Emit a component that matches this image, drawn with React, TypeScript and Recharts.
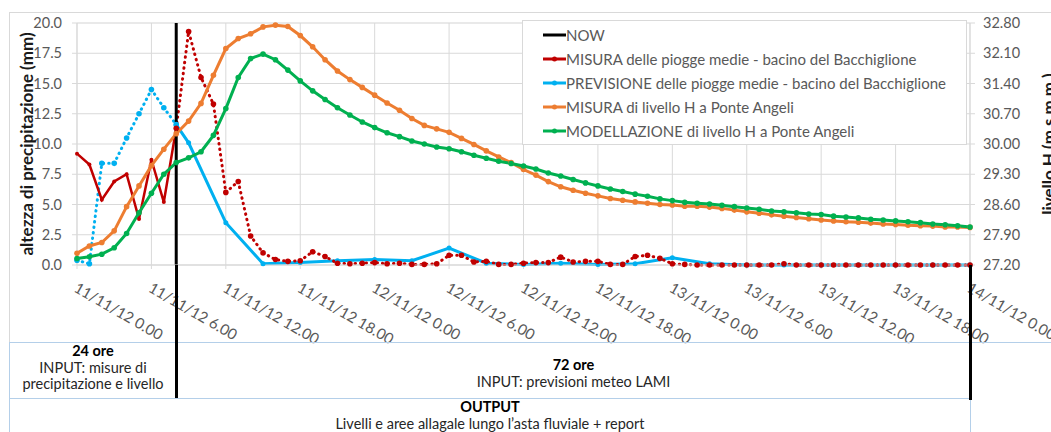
import React from 'react';
import { ComposedChart, Line, XAxis, YAxis, CartesianGrid, ReferenceLine, Legend } from 'recharts';

// hourly steps from 11/11/12 0.00 to 14/11/12 0.00
const hours = Array.from({ length: 73 }, (_, i) => i);
const nowHour = 8;

const tickHours = [0, 6, 12, 18, 24, 30, 36, 42, 48, 54, 60, 66, 72];
const tickLabels = [
  '11/11/12 0.00', '11/11/12 6.00', '11/11/12 12.00', '11/11/12 18.00',
  '12/11/12 0.00', '12/11/12 6.00', '12/11/12 12.00', '12/11/12 18.00',
  '13/11/12 0.00', '13/11/12 6.00', '13/11/12 12.00', '13/11/12 18.00',
  '14/11/12 0.00',
];
const rainTicks = [0, 2.5, 5, 7.5, 10, 12.5, 15, 17.5, 20];
const levelTicks = [27.2, 27.9, 28.6, 29.3, 30.0, 30.7, 31.4, 32.1, 32.8];
const minorTicks = Array.from({ length: 41 }, (_, i) => i * 0.5);

// MISURA piogge medie (mm), 0..8 h
const rainObsBefore = [9.2, 8.3, 5.4, 6.9, 7.5, 3.8, 8.7, 5.2, 11.3];
// the same, after NOW, 8..72 h
const rainObsAfter = [
  11.3, 19.3, 15.5, 13.3, 6.0, 6.9, 2.4, 1.0, 0.45, 0.3,
  0.35, 1.1, 0.7, 0.15, 0.1, 0.15, 0.2, 0.1, 0.15, 0.05,
  0.05, 0.1, 0.8, 0.8, 0.25, 0.3, 0.05, 0.05, 0.15, 0.2,
  0.2, 0.65, 0.25, 0.3, 0.3, 0.05, 0.05, 0.7, 0.8, 0.55,
  0.1, 0.05, 0, 0, 0, 0, 0, 0, 0, 0.1,
  0, 0, 0, 0, 0, 0, 0, 0, 0, 0,
  0, 0, 0, 0, 0,
];
// PREVISIONE piogge medie (mm), 0..8 h
const rainFcBefore = [0.4, 0.1, 8.4, 8.4, 10.5, 12.5, 14.5, 13.0, 11.6];
// forecast after NOW
const rainFcHours = [8, 9, 12, 15, 18, 21, 24, 27, 30, 33, 36, 39, 42, 45, 48, 51, 54, 57, 60, 63, 66, 69, 72];
const rainFcAfter = [11.6, 10.1, 3.5, 0.1, 0.2, 0.35, 0.45, 0.35, 1.4, 0.15, 0.05, 0.15, 0.05, 0.1, 0.6, 0.1, 0, 0, 0, 0, 0, 0, 0];

// MISURA di livello H a Ponte Angeli (m s.m.m.)
const levelObs = [
  27.47, 27.64, 27.72, 27.99, 28.55, 29.03, 29.50, 29.88, 30.24, 30.53,
  30.94, 31.59, 32.21, 32.44, 32.55, 32.71, 32.75, 32.72, 32.51, 32.25,
  31.95, 31.69, 31.49, 31.31, 31.13, 30.95, 30.78, 30.59, 30.43, 30.35,
  30.27, 30.13, 29.99, 29.84, 29.70, 29.57, 29.41, 29.28, 29.13, 29.01,
  28.93, 28.86, 28.80, 28.74, 28.70, 28.66, 28.63, 28.60, 28.59, 28.56,
  28.56, 28.54, 28.51, 28.47, 28.43, 28.40, 28.36, 28.33, 28.30, 28.27,
  28.24, 28.22, 28.20, 28.19, 28.17, 28.15, 28.14, 28.12, 28.11, 28.10,
  28.08, 28.08, 28.07,
];
// MODELLAZIONE di livello H a Ponte Angeli (m s.m.m.)
const levelModel = [
  27.35, 27.39, 27.45, 27.60, 27.93, 28.41, 28.86, 29.30, 29.57, 29.68,
  29.82, 30.20, 30.82, 31.54, 31.98, 32.08, 31.95, 31.71, 31.46, 31.23,
  31.03, 30.84, 30.67, 30.51, 30.38, 30.26, 30.17, 30.07, 30.00, 29.93,
  29.89, 29.82, 29.74, 29.67, 29.60, 29.55, 29.49, 29.42, 29.33, 29.26,
  29.18, 29.10, 29.03, 28.96, 28.90, 28.84, 28.79, 28.73, 28.69, 28.65,
  28.63, 28.61, 28.58, 28.55, 28.52, 28.49, 28.45, 28.43, 28.41, 28.38,
  28.37, 28.33, 28.31, 28.29, 28.26, 28.24, 28.22, 28.20, 28.18, 28.15,
  28.13, 28.11, 28.08,
];

const RED = '#c00000';
const BLUE = '#00b0f0';
const ORANGE = '#ed7d31';
const GREEN = '#00b050';
const FONT = 'Lato, "Open Sans", sans-serif';

const chartData = hours.map((h, i) => ({
  hour: h,
  rainObs: i <= nowHour ? rainObsBefore[i] : null,
  rainObsLate: i >= nowHour ? rainObsAfter[i - nowHour] : null,
  rainFcEarly: i <= nowHour ? rainFcBefore[i] : null,
  rainFcLate: rainFcHours.includes(h) ? rainFcAfter[rainFcHours.indexOf(h)] : null,
  levelObs: levelObs[i],
  levelModel: levelModel[i],
}));

const legendItems = [
  { label: 'NOW', color: '#000000', marker: false },
  { label: 'MISURA delle piogge medie - bacino del Bacchiglione', color: RED, marker: true },
  { label: 'PREVISIONE delle piogge medie - bacino del Bacchiglione', color: BLUE, marker: true },
  { label: 'MISURA di livello H a Ponte Angeli', color: ORANGE, marker: true },
  { label: 'MODELLAZIONE di livello H a Ponte Angeli', color: GREEN, marker: true },
];

const renderLegend = () => (
  <div
    style={{
      width: 445,
      height: 125,
      boxSizing: 'border-box',
      border: '1px solid #d9d9d9',
      background: '#fff',
      padding: '2px 0 0 20px',
      fontFamily: FONT,
    }}
  >
    {legendItems.map((it) => (
      <div key={it.label} style={{ display: 'flex', alignItems: 'center', height: 24 }}>
        <svg width={23} height={10} style={{ flex: 'none' }}>
          <line x1={0} y1={5} x2={23} y2={5} stroke={it.color} strokeWidth={3} />
          {it.marker && <circle cx={11.5} cy={5} r={2.5} fill={it.color} />}
        </svg>
        <span style={{ fontSize: 15, color: '#595959', whiteSpace: 'nowrap' }}>{it.label}</span>
      </div>
    ))}
  </div>
);

const DateTick = (props: any) => {
  const { x, y, payload } = props;
  const label = tickLabels[tickHours.indexOf(payload.value)];
  const tx = x - 4;
  const ty = y + 20;
  return (
    <text
      x={tx}
      y={ty}
      transform={`rotate(30, ${tx}, ${ty})`}
      fill="#595959"
      fontSize={15}
      fontFamily={FONT}
      textAnchor="start"
    >
      {label}
    </text>
  );
};

const blueLine = '#b4cfe9';

export default function App() {
  return (
    <div
      style={{
        position: 'absolute',
        left: 0,
        top: 0,
        width: 1051,
        height: 432,
        overflow: 'hidden',
        background: '#fff',
        fontFamily: FONT,
      }}
    >
      {/* chart frame */}
      <div style={{ position: 'absolute', left: 9, top: 12, width: 1100, height: 330, borderLeft: '1px solid #d9d9d9', borderTop: '1px solid #d9d9d9' }} />

      <div style={{ position: 'absolute', left: 0, top: 0 }}>
        <ComposedChart
          width={1051}
          height={432}
          data={chartData}
          margin={{ top: 23, right: 0, bottom: 107, left: 10 }}
        >
          <CartesianGrid yAxisId="minor" vertical={false} stroke="#f2f2f2" strokeWidth={1} />
          <CartesianGrid yAxisId="left" stroke="#d9d9d9" strokeWidth={1} />
          <XAxis
            dataKey="hour"
            type="number"
            domain={[0, 72]}
            ticks={tickHours}
            interval={0}
            height={60}
            axisLine={{ stroke: '#d9d9d9' }}
            tickLine={{ stroke: '#d9d9d9' }}
            tickSize={4}
            tick={<DateTick />}
          />
          <YAxis
            yAxisId="left"
            domain={[0, 20]}
            ticks={rainTicks}
            interval={0}
            width={67}
            axisLine={{ stroke: '#d9d9d9' }}
            tickLine={{ stroke: '#d9d9d9' }}
            tickSize={5}
            tickMargin={10}
            tick={{ fill: '#595959', fontSize: 14.5, fontFamily: FONT }}
            tickFormatter={(v: number) => v.toFixed(1)}
            label={{
              value: 'altezza di precipitazione (mm)',
              angle: -90,
              position: 'insideLeft',
              offset: 17,
              style: { textAnchor: 'middle', fontWeight: 700, fontSize: 17, fill: '#1a1a1a', fontFamily: FONT },
            }}
          />
          <YAxis yAxisId="minor" hide domain={[0, 20]} ticks={minorTicks} interval={0} />
          <YAxis
            yAxisId="right"
            orientation="right"
            domain={[27.2, 32.8]}
            ticks={levelTicks}
            interval={0}
            width={81}
            axisLine={{ stroke: '#d9d9d9' }}
            tickLine={{ stroke: '#d9d9d9' }}
            tickSize={5}
            tickMargin={8}
            tick={{ fill: '#595959', fontSize: 14.5, fontFamily: FONT }}
            tickFormatter={(v: number) => v.toFixed(2)}
            label={{
              value: 'livello H (m s.m.m.)',
              angle: -90,
              position: 'insideRight',
              offset: 2,
              style: { textAnchor: 'middle', fontWeight: 700, fontSize: 17, fill: '#1a1a1a', fontFamily: FONT },
            }}
          />

          <Line
            yAxisId="left"
            dataKey="rainFcEarly"
            stroke={BLUE}
            strokeWidth={3}
            strokeDasharray="0.5 5"
            strokeLinecap="round"
            dot={{ r: 2.8, fill: BLUE, strokeWidth: 0 }}
            isAnimationActive={false}
            legendType="none"
          />
          <Line
            yAxisId="left"
            dataKey="rainFcLate"
            stroke={BLUE}
            strokeWidth={3}
            connectNulls
            dot={{ r: 2.5, fill: BLUE, strokeWidth: 0 }}
            isAnimationActive={false}
          />
          <Line
            yAxisId="left"
            dataKey="rainObs"
            stroke={RED}
            strokeWidth={2.5}
            dot={{ r: 2, fill: RED, strokeWidth: 0 }}
            isAnimationActive={false}
          />
          <Line
            yAxisId="left"
            dataKey="rainObsLate"
            stroke={RED}
            strokeWidth={3}
            strokeDasharray="0.5 5"
            strokeLinecap="round"
            dot={{ r: 2.8, fill: RED, strokeWidth: 0 }}
            isAnimationActive={false}
            legendType="none"
          />
          <Line
            yAxisId="right"
            dataKey="levelObs"
            stroke={ORANGE}
            strokeWidth={3}
            dot={{ r: 2.8, fill: ORANGE, strokeWidth: 0 }}
            isAnimationActive={false}
          />
          <Line
            yAxisId="right"
            dataKey="levelModel"
            stroke={GREEN}
            strokeWidth={3}
            dot={{ r: 2.8, fill: GREEN, strokeWidth: 0 }}
            isAnimationActive={false}
          />
          <ReferenceLine yAxisId="left" x={nowHour} stroke="#000" strokeWidth={3} />
          <Legend
            content={renderLegend}
            layout="horizontal"
            verticalAlign="middle"
            align="center"
            wrapperStyle={{ left: 522, top: 20, width: 445, height: 125 }}
          />
        </ComposedChart>
      </div>

      {/* table below the chart */}
      <div style={{ position: 'absolute', left: 9, top: 342, width: 1100, height: 0, borderTop: `1px solid ${blueLine}` }} />
      <div style={{ position: 'absolute', left: 9, top: 398, width: 961, height: 60, borderTop: `1px solid ${blueLine}`, borderRight: `1px solid ${blueLine}` }} />
      <div style={{ position: 'absolute', left: 9, top: 342, width: 0, height: 100, borderLeft: `1px solid ${blueLine}` }} />
      <div style={{ position: 'absolute', left: 175, top: 265, width: 3, height: 133, background: '#000' }} />
      <div style={{ position: 'absolute', left: 969, top: 265, width: 3, height: 135, background: '#000' }} />

      <div style={{ position: 'absolute', left: 10, top: 343, width: 166, textAlign: 'center', fontSize: 14.5, lineHeight: '16.5px', color: '#262626' }}>
        <div style={{ fontWeight: 700, color: '#000' }}>24 ore</div>
        <div>INPUT: misure di</div>
        <div>precipitazione e livello</div>
      </div>
      <div style={{ position: 'absolute', left: 178, top: 357, width: 791, textAlign: 'center', fontSize: 14.5, lineHeight: '16.5px', color: '#262626' }}>
        <div style={{ fontWeight: 700, color: '#000' }}>72 ore</div>
        <div>INPUT: previsioni meteo LAMI</div>
      </div>
      <div style={{ position: 'absolute', left: 10, top: 399, width: 960, textAlign: 'center', fontSize: 14.5, lineHeight: '16.5px', color: '#262626' }}>
        <div style={{ fontWeight: 700, color: '#000' }}>OUTPUT</div>
        <div>Livelli e aree allagale lungo l’asta fluviale + report</div>
      </div>
    </div>
  );
}
